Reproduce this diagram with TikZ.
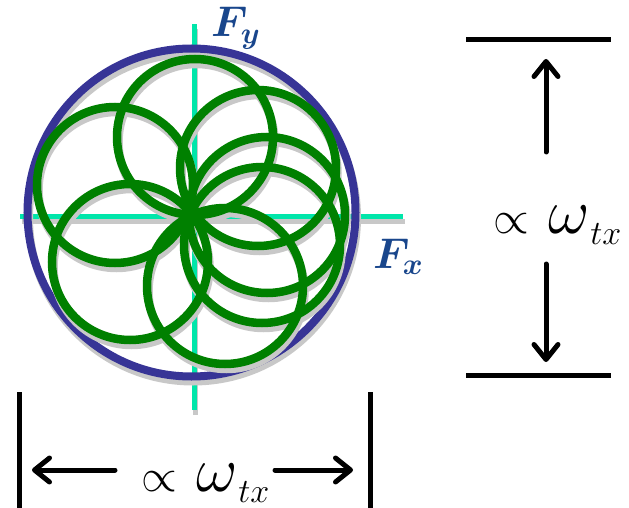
\RequirePackage{fix-cm}
\documentclass[tikz,border=0pt]{standalone}
\usepackage{amsmath,bm}
\usetikzlibrary{arrows.meta}
\definecolor{axisteal}{RGB}{0,230,170}
\definecolor{ringblue}{RGB}{55,52,150}
\definecolor{loopgreen}{RGB}{0,128,0}
\definecolor{labelblue}{RGB}{25,70,140}
\definecolor{shadowgray}{RGB}{200,200,200}
\newcommand{\omegatx}{{\fontsize{46}{50}\selectfont$\propto$}\hspace{20pt}{\fontsize{64}{66}\selectfont$\omega$}\raisebox{-11pt}{\fontsize{34}{36}\selectfont$tx$}}
\begin{document}
\begin{tikzpicture}[x=1pt,y=-1pt,
  axisline/.style={axisteal,line width=5pt},
  ringline/.style={ringblue,line width=8pt},
  loopline/.style={loopgreen,line width=8.5pt},
  shadowline/.style={shadowgray,transform canvas={shift={(1.5,5)}}},
  barline/.style={black,line width=5pt},
  dimarrow/.style={black,line width=5pt,line cap=round,-{Straight Barb[length=15pt,width=24pt,line cap=round,line join=round]}},
  forcelabel/.style={labelblue,inner sep=0pt,anchor=base west,font=\fontsize{43}{46}\selectfont},
  dimlabel/.style={inner sep=0pt,anchor=base west}
]
\useasboundingbox (0,0) rectangle (629,508);
% axes
\coordinate (xl) at (20,216);
\coordinate (xr) at (403,216);
\coordinate (yt) at (194,24);
\coordinate (yb) at (194,410);
\draw[shadowline,line width=5pt] (xl) -- (xr) (yb) -- (yt);
\draw[axisline] (xl) -- (xr) (yb) -- (yt);
% outer ring
\coordinate (O) at (191.5,212.5);
\draw[shadowline,line width=8pt] (O) circle[radius=164];
\draw[ringline] (O) circle[radius=164];
% loops
\foreach \cx/\cy [count=\i] in {195/137,258/168,267/215,262/245,225/286,130/262,115/185}{
  \coordinate (c\i) at (\cx,\cy);
}
\foreach \i in {1,...,7}{\draw[shadowline,line width=8.5pt] (c\i) circle[radius=78];}
\foreach \i in {1,...,7}{\draw[loopline] (c\i) circle[radius=78];}
% force labels
\node[forcelabel] (Fy) at (211,37) {$\bm{F}_{\bm{y}}$};
\node[forcelabel] (Fx) at (373,268) {$\bm{F}_{\bm{x}}$};
% right dimension
\coordinate (rt1) at (466,40); \coordinate (rt2) at (611,40);
\coordinate (rb1) at (466,375); \coordinate (rb2) at (611,375);
\draw[barline] (rt1) -- (rt2);
\draw[barline] (rb1) -- (rb2);
\coordinate (ua0) at (546,152); \coordinate (ua1) at (546,59);
\coordinate (da0) at (546,264); \coordinate (da1) at (546,362);
\draw[dimarrow] (ua0) -- (ua1);
\draw[dimarrow] (da0) -- (da1);
\node[dimlabel] (rlab) at (493,233) {\omegatx};
% bottom dimension
\coordinate (bl1) at (19,392); \coordinate (bl2) at (19,508);
\coordinate (br1) at (370,392); \coordinate (br2) at (370,508);
\draw[barline] (bl1) -- (bl2);
\draw[barline] (br1) -- (br2);
\coordinate (la0) at (115,470); \coordinate (la1) at (32,470);
\coordinate (ra0) at (275,470); \coordinate (ra1) at (353,470);
\draw[dimarrow] (la0) -- (la1);
\draw[dimarrow] (ra0) -- (ra1);
\node[dimlabel] (blab) at (141,491) {\omegatx};
\end{tikzpicture}
\end{document}
